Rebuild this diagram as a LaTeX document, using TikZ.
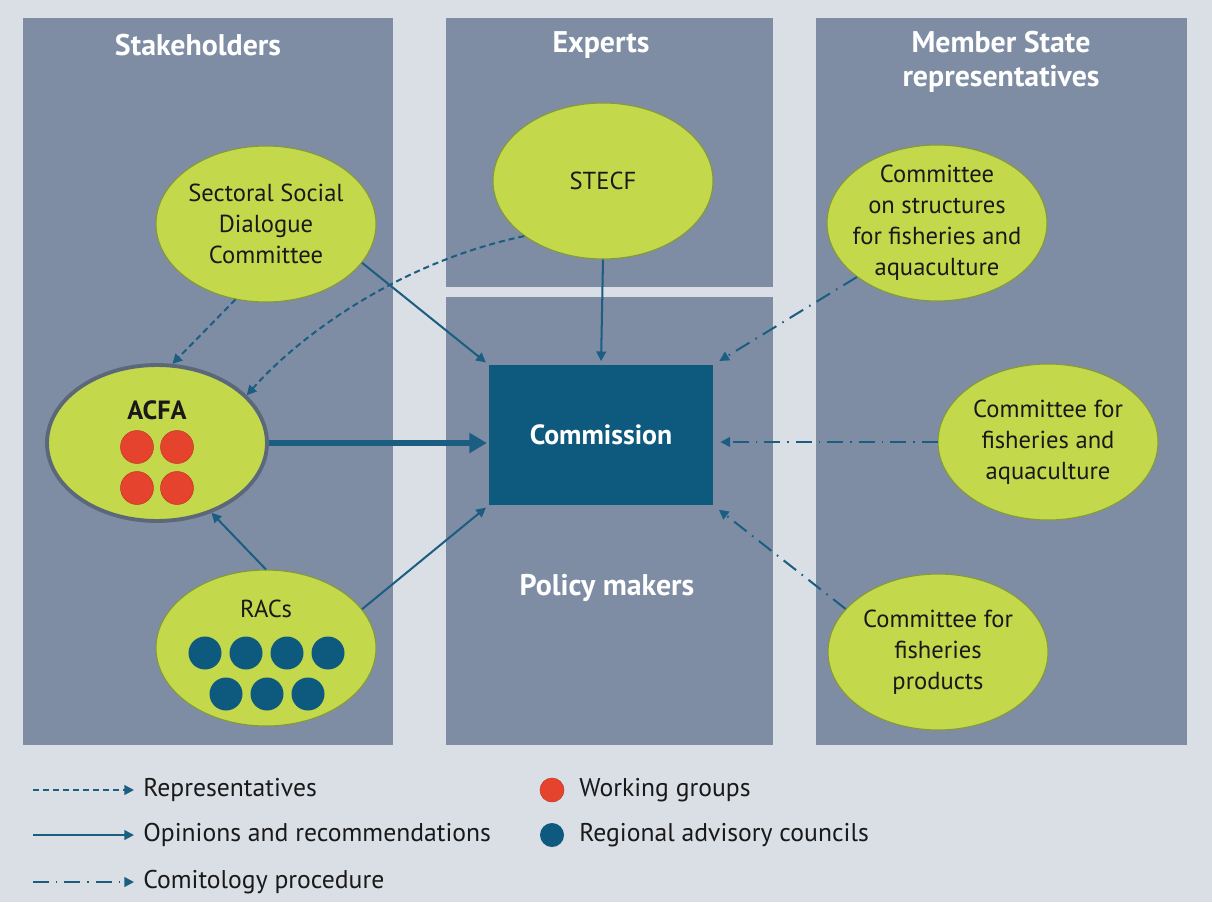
\documentclass[tikz,border=0pt]{standalone}
\usepackage{fontspec}
\setmainfont{PT Sans}
\usetikzlibrary{arrows.meta,shapes.geometric}
\definecolor{bgc}{HTML}{DADEE5}
\definecolor{panelc}{HTML}{7E8DA4}
\definecolor{limec}{HTML}{C4D84C}
\definecolor{limeedge}{HTML}{849A34}
\definecolor{navyc}{HTML}{0E5A7E}
\definecolor{arrowc}{HTML}{1B5E82}
\definecolor{wgc}{HTML}{E5432E}
\definecolor{racc}{HTML}{0D5A7E}
\definecolor{acfaedge}{HTML}{5B687A}
\begin{document}
\begin{tikzpicture}[x=0.02cm,y=-0.02cm,
  committee/.style={ellipse, draw=limeedge, line width=0.6pt, fill=limec,
    minimum width=4.4cm, minimum height=3.12cm, inner sep=-10pt, align=center,
    font=\fontsize{14}{17.6}\selectfont, text=black!90},
  paneltitle/.style={text=white, font=\bfseries\fontsize{17}{19.3}\selectfont, align=center},
  ctext/.style={font=\fontsize{14}{17.6}\selectfont, text=black!90},
  legendtext/.style={anchor=west, font=\fontsize{14.6}{17}\selectfont, text=black!90, inner sep=0pt},
  wgdot/.style={circle, fill=wgc, draw=wgc!85!black, line width=0.3pt, minimum size=0.66cm, inner sep=0pt},
  racdot/.style={circle, fill=racc, minimum size=0.66cm, inner sep=0pt},
  opinion/.style={draw=arrowc, line width=1.15pt, -{Triangle[length=5.5pt,width=5.5pt]}},
  bigopinion/.style={draw=arrowc, line width=3.4pt, -{Triangle[length=10pt,width=11pt]}},
  rep/.style={opinion, dash pattern=on 3.5pt off 2.2pt},
  comit/.style={opinion, dash pattern=on 9pt off 4pt on 0.9pt off 4pt}
]
\fill[bgc] (0,0) rectangle (1212,902);
\useasboundingbox (0,0) rectangle (1212,902);

% panels
\fill[panelc] (23,18) rectangle (393,745);
\fill[panelc] (446,18) rectangle (773,287);
\fill[panelc] (446,297) rectangle (773,745);
\fill[panelc] (816,18) rectangle (1187,745);

% titles
\node[paneltitle] (tstake) at (198,45) {Stakeholders};
\node[paneltitle] (texp) at (601,45) {Experts};
\node[paneltitle] (tms) at (1001,62) {Member State\\representatives};
\node[paneltitle] (tpol) at (607,588) {Policy makers};

% nodes
\node[committee] (ssdc) at (266,224) {Sectoral Social\\Dialogue\\Committee};
\node[committee] (stecf) at (603,181) {STECF};
\node[committee, draw=acfaedge, line width=2.2pt] (acfa) at (157,443) {};
\node[ctext, font=\bfseries\fontsize{15}{17}\selectfont] (acfat) at (157,410) {ACFA};
\node[wgdot] (w1) at (137,447) {};
\node[wgdot] (w2) at (177,447) {};
\node[wgdot] (w3) at (137,488) {};
\node[wgdot] (w4) at (177,488) {};
\node[committee] (racs) at (266,648) {};
\node[ctext] (racst) at (266,609) {RACs};
\node[racdot] (r1) at (205,653) {};
\node[racdot] (r2) at (246,653) {};
\node[racdot] (r3) at (287,653) {};
\node[racdot] (r4) at (328,653) {};
\node[racdot] (r5) at (226,694) {};
\node[racdot] (r6) at (267,694) {};
\node[racdot] (r7) at (308,694) {};

\node[fill=navyc, minimum width=4.48cm, minimum height=2.8cm, inner sep=0pt,
  text=white, font=\bfseries\fontsize{15.8}{18}\selectfont] (comm) at (601,435) {Commission};

\node[committee] (struct) at (937,223) {Committee\\on structures\\for fisheries and\\aquaculture};
\node[committee] (fa) at (1048,442) {Committee for\\fisheries and\\aquaculture};
\node[committee] (prod) at (938,652) {Committee for\\fisheries\\products};

% connectors
\draw[opinion, shorten >=2pt] (ssdc.338) -- (comm.north west);
\draw[opinion, shorten >=2pt] (stecf.south) -- (comm.north);
\draw[bigopinion, shorten >=1pt] (acfa.east) -- (acfa.east -| comm.west);
\draw[opinion] (racs.north) -- (acfa.308);
\draw[opinion, shorten >=2pt] (racs.22) -- (comm.south west);
\draw[rep] (ssdc.248) -- (acfa.79);
\draw[rep] (stecf.215) .. controls (400,262) and (300,335) .. (acfa.28);
\draw[comit, shorten >=4pt] (struct.214) -- (comm.north east);
\draw[comit, shorten >=4pt] (fa.west) -- (fa.west -| comm.east);
\draw[comit, shorten >=4pt] (prod.155) -- (comm.south east);

% legend
\coordinate (l1s) at (33,790); \coordinate (l1e) at (134,790);
\coordinate (l2s) at (33,835); \coordinate (l2e) at (134,835);
\coordinate (l3s) at (33,882); \coordinate (l3e) at (134,882);
\draw[rep] (l1s) -- (l1e);
\draw[opinion] (l2s) -- (l2e);
\draw[comit] (l3s) -- (l3e);
\node[legendtext] (lt1) at (143,790) {Representatives};
\node[legendtext] (lt2) at (143,835) {Opinions and recommendations};
\node[legendtext] (lt3) at (143,882) {Comitology procedure};
\node[wgdot, minimum size=0.48cm] (lwg) at (552,790) {};
\node[racdot, minimum size=0.48cm] (lrac) at (552,835) {};
\node[legendtext] (lt4) at (579,790) {Working groups};
\node[legendtext] (lt5) at (579,835) {Regional advisory councils};
\end{tikzpicture}
\end{document}
